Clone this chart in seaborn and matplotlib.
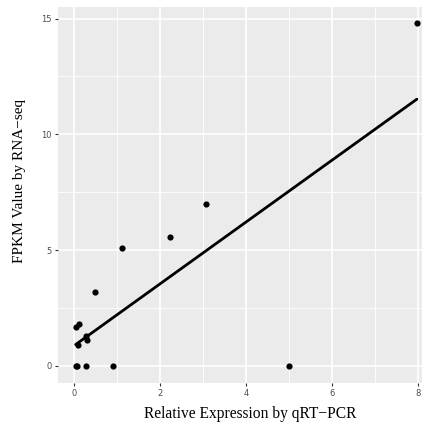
import matplotlib
matplotlib.use("Agg")
import matplotlib.pyplot as plt
import seaborn as sns
import pandas as pd
from matplotlib.ticker import MultipleLocator

qrt = [0.05, 0.07, 0.27, 0.90, 5.00, 0.04, 0.12, 0.10, 0.27, 0.31, 0.49, 1.12, 2.23, 3.06, 7.97]
fpkm = [0.0, 0.0, 0.0, 0.0, 0.0, 1.70, 1.82, 0.88, 1.27, 1.12, 3.19, 5.09, 5.57, 6.98, 14.79]
x_ticks = [0, 2, 4, 6, 8]
y_ticks = [0, 5, 10, 15]

df = pd.DataFrame({"qRT": qrt, "FPKM": fpkm})

sns.set_theme(style="darkgrid")
fig = plt.figure(figsize=(4.22, 4.26), dpi=100)
ax = fig.add_axes([58/422, 43/426, 1 - 58/422, (383 - 7)/426])
ax.set_facecolor("#EBEBEB")

sns.regplot(data=df, x="qRT", y="FPKM", ax=ax, ci=None, truncate=True,
            scatter_kws=dict(s=20, color="black", linewidths=0, alpha=1),
            line_kws=dict(color="black", linewidth=2.0))

ax.set_xlim(-0.37, 8.09)
ax.set_ylim(-0.74, 15.5)
ax.set_xticks(x_ticks)
ax.set_yticks(y_ticks)
ax.xaxis.set_minor_locator(MultipleLocator(1))
ax.yaxis.set_minor_locator(MultipleLocator(2.5))
ax.grid(which="major", color="white", linewidth=1.2)
ax.grid(which="minor", color="white", linewidth=0.6)
ax.set_axisbelow(True)
for s in ax.spines.values():
    s.set_visible(False)
ax.tick_params(axis="both", which="major", length=2.5, width=0.8, color="#333333",
               labelsize=6, labelcolor="#4D4D4D", pad=2, bottom=True, left=True)
ax.tick_params(which="minor", length=0)

ax.set_xlabel("Relative Expression by qRT\u2212PCR", family="Liberation Serif",
              fontsize=11.2, color="black")
ax.set_ylabel("FPKM Value by RNA\u2212seq", family="Liberation Serif",
              fontsize=11.0, color="black")
ax.xaxis.set_label_coords(0.527, -0.062)
ax.yaxis.set_label_coords(-0.088, 0.537)

fig.savefig("out.png", dpi=100)
